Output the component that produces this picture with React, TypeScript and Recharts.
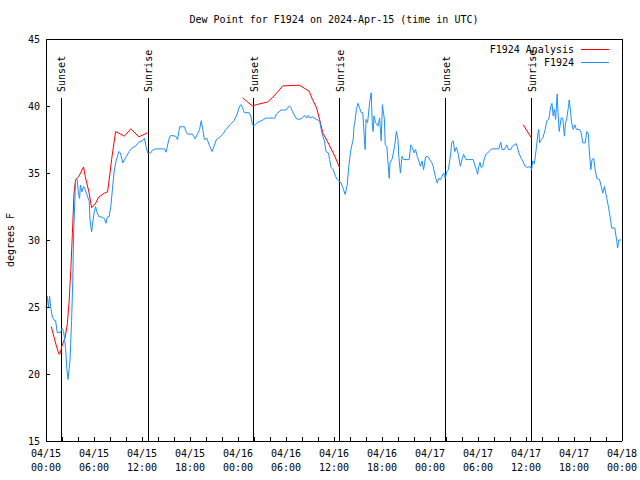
import { LineChart, Line, XAxis, YAxis, ReferenceLine, Legend } from 'recharts';

// observed dew point (F1924), hours since 04/15 00:00 UTC
const obsHours = [
  0.0, 0.15, 0.3, 0.45, 0.6, 0.8, 1.05, 1.2, 1.4, 1.8, 2.0, 2.2, 2.45, 2.6, 2.75, 2.9, 3.0, 3.2, 3.35, 3.45,
  3.55, 3.7, 3.9, 4.05, 4.2, 4.3, 4.5, 4.7, 4.9, 5.05, 5.4, 5.5, 5.7, 5.8, 6.0, 6.2, 6.35, 6.6, 7.05, 7.3,
  7.5, 7.65, 7.9, 8.1, 8.3, 8.5, 8.7, 9.0, 9.1, 9.3, 9.6, 10.05, 10.4, 10.8, 11.2, 11.6, 12.0, 12.3, 12.5, 12.7,
  13.1, 13.3, 13.7, 14.8, 15.0, 15.4, 15.6, 16.2, 16.45, 16.7, 17.3, 17.5, 17.7, 18.3, 18.65, 19.2, 19.4, 19.6, 19.8, 20.1,
  20.4, 20.75, 21.0, 21.3, 21.6, 22.1, 22.5, 23.0, 23.5, 23.9, 24.2, 24.4, 24.8, 25.4, 25.6, 25.8, 26.0, 26.5, 27.1, 27.5,
  28.6, 28.8, 29.4, 30.0, 30.4, 30.6, 30.8, 31.3, 31.7, 32.0, 32.4, 32.6, 32.8, 33.0, 33.3, 33.8, 34.2, 34.4, 34.6, 34.8,
  35.0, 35.3, 35.45, 35.65, 35.9, 36.2, 36.4, 36.6, 36.9, 37.1, 37.4, 37.65, 37.85, 38.05, 38.2, 38.4, 38.5, 38.6, 38.8, 39.0,
  39.2, 39.4, 39.6, 39.8, 39.9, 40.0, 40.2, 40.45, 40.65, 40.8, 40.9, 41.0, 41.2, 41.5, 41.7, 41.9, 42.05, 42.3, 42.4, 42.6,
  42.9, 43.0, 43.3, 43.6, 43.8, 44.0, 44.1, 44.3, 44.5, 44.7, 45.0, 45.4, 45.6, 45.8, 46.0, 46.2, 46.4, 46.6, 46.8, 47.0,
  47.2, 47.45, 47.7, 48.2, 48.4, 48.6, 48.9, 49.1, 49.3, 49.5, 49.7, 49.9, 50.1, 50.3, 50.6, 50.7, 50.9, 51.1, 51.3, 51.5,
  51.8, 52.0, 52.2, 52.5, 53.4, 53.6, 53.8, 53.95, 54.1, 54.25, 54.4, 54.6, 54.8, 55.0, 55.4, 55.7, 56.6, 56.85, 57.0, 57.3,
  57.6, 57.8, 58.1, 58.3, 58.8, 59.1, 59.4, 59.6, 59.9, 60.2, 60.5, 60.7, 60.85, 61.05, 61.3, 61.5, 61.6, 61.7, 61.9, 62.1,
  62.4, 62.6, 62.85, 63.1, 63.25, 63.4, 63.55, 63.7, 63.9, 64.0, 64.15, 64.25, 64.4, 64.6, 64.8, 64.95, 65.1, 65.3, 65.4, 65.55,
  65.7, 65.9, 66.1, 66.3, 66.7, 66.9, 67.1, 67.4, 67.6, 67.8, 67.9, 68.1, 68.25, 68.45, 68.65, 68.85, 69.2, 69.4, 69.6, 69.8,
  70.1, 70.3, 70.6, 70.7, 71.1, 71.35, 71.45, 71.6, 71.9,
];
const obsDew = [
  24.9, 25.8, 25.0, 25.8, 24.9, 24.25, 24.0, 24.0, 23.1, 23.1, 23.4, 23.2, 21.9, 20.4, 19.6, 20.4, 21.0, 24.0, 27.0, 30.5,
  32.0, 34.5, 34.5, 33.5, 33.1, 34.1, 33.6, 34.0, 33.75, 33.5, 32.9, 31.5, 30.6, 31.1, 32.0, 32.5, 32.1, 31.75, 31.7, 31.6,
  31.25, 31.7, 31.75, 32.5, 33.75, 35.0, 35.75, 36.4, 36.6, 36.5, 35.75, 36.25, 36.6, 36.9, 37.0, 37.3, 37.4, 37.6, 37.0, 36.5,
  36.5, 36.7, 36.8, 36.8, 36.55, 37.6, 37.8, 37.75, 37.5, 38.45, 38.45, 38.1, 37.9, 37.9, 37.55, 38.25, 38.9, 38.25, 37.5, 37.6,
  37.1, 36.6, 37.0, 37.5, 37.6, 37.9, 38.25, 38.6, 38.9, 39.4, 40.0, 40.1, 39.5, 39.5, 39.25, 38.6, 38.5, 38.8, 38.95, 39.1,
  39.1, 39.4, 39.7, 39.7, 40.0, 39.9, 39.6, 39.05, 39.0, 39.1, 39.3, 39.1, 39.3, 39.1, 39.2, 39.0, 38.9, 38.25, 37.75, 37.4,
  36.6, 36.5, 36.0, 35.4, 35.25, 34.75, 34.5, 34.4, 34.25, 33.9, 33.4, 34.1, 35.5, 36.5, 37.0, 37.5, 38.5, 38.75, 39.75, 40.2,
  39.85, 39.5, 39.5, 37.5, 36.75, 39.0, 38.75, 40.25, 41.0, 38.5, 38.1, 39.25, 38.75, 38.5, 39.1, 37.4, 40.1, 39.0, 37.1, 37.0,
  34.6, 35.75, 36.1, 37.1, 38.1, 37.5, 36.25, 35.0, 36.25, 36.0, 36.0, 36.0, 37.1, 36.9, 36.5, 36.75, 36.25, 35.9, 35.5, 35.9,
  35.25, 36.2, 36.25, 35.8, 35.5, 34.9, 34.25, 34.6, 34.5, 34.75, 35.0, 34.6, 35.1, 35.25, 36.5, 37.25, 37.4, 36.6, 36.9, 36.5,
  35.5, 36.0, 36.4, 36.0, 36.0, 35.6, 35.25, 34.9, 35.5, 35.8, 35.4, 35.5, 36.1, 36.4, 36.6, 36.8, 36.8, 37.3, 36.75, 36.75,
  37.1, 36.75, 36.75, 37.0, 37.2, 36.5, 36.1, 35.9, 35.5, 35.4, 35.5, 35.25, 35.9, 35.7, 36.9, 38.0, 38.25, 37.25, 37.5, 37.6,
  38.25, 38.9, 39.0, 40.0, 40.2, 39.25, 39.75, 39.0, 40.9, 39.5, 38.1, 38.5, 39.1, 39.1, 37.75, 38.75, 39.1, 39.9, 40.45, 39.75,
  38.75, 38.25, 38.6, 38.25, 38.25, 38.0, 37.25, 37.25, 38.1, 37.9, 36.75, 35.25, 36.0, 36.1, 35.25, 34.6, 34.5, 34.0, 33.5, 34.0,
  33.1, 32.5, 31.4, 30.9, 30.9, 29.9, 29.4, 30.0, 30.0,
];

// analysis dew point, null = no analysis
const anaHours = [
  0.66, 1.0, 1.3, 1.6, 1.75, 2.0, 2.4, 2.67, 2.9, 3.1, 3.3, 3.5, 3.7, 4.1, 4.7, 4.9, 5.4, 5.7, 6.2, 6.6,
  7.3, 7.7, 8.0, 8.2, 8.7, 9.8, 10.6, 11.6, 12.7, 13.0,
  24.6, 25.8, 26.3, 27.7, 28.5, 29.6, 31.7, 32.5, 32.9, 33.3, 33.8, 34.2, 34.6, 35.4, 36.1, 36.7, 48.0,
  59.65, 60.7,
];
const anaDew = [
  23.55, 22.75, 22.1, 21.5, 21.5, 22.1, 22.75, 23.75, 25.5, 27.75, 30.5, 33.5, 34.5, 34.75, 35.45, 34.75, 33.5, 32.4, 32.75, 33.2,
  33.5, 33.6, 35.0, 36.0, 38.1, 37.75, 38.3, 37.7, 38.0, null,
  40.6, 40.0, 40.1, 40.3, 40.75, 41.5, 41.55, 41.25, 41.1, 40.5, 39.9, 39.0, 38.0, 37.1, 36.25, 35.4, null,
  38.6, 37.6,
];

const sunHours = [1.93, 12.8, 25.95, 36.72, 49.96, 60.73];
const sunNames = ['Sunset', 'Sunrise', 'Sunset', 'Sunrise', 'Sunset', 'Sunrise'];

const hourTicks = [0, 2, 4, 6, 8, 10, 12, 14, 16, 18, 20, 22, 24, 26, 28, 30, 32, 34, 36, 38, 40, 42, 44, 46, 48, 50, 52, 54, 56, 58, 60, 62, 64, 66, 68, 70, 72];
const dateLabels = ['04/15', '04/15', '04/15', '04/15', '04/16', '04/16', '04/16', '04/16', '04/17', '04/17', '04/17', '04/17', '04/18'];
const timeLabels = ['00:00', '06:00', '12:00', '18:00', '00:00', '06:00', '12:00', '18:00', '00:00', '06:00', '12:00', '18:00', '00:00'];
const dewTicks = [15, 20, 25, 30, 35, 40, 45];

const FONT = '"DejaVu Sans Mono", monospace';
const RED = '#ff0000';
const BLUE = '#1e8fff';
const TICK = 4;

const obsData = obsHours.map((h, i) => ({ h, v: obsDew[i] }));
const anaData = anaHours.map((h, i) => ({ h, v: anaDew[i] }));

// gnuplot style: ticks point into the plot
function BottomTick({ x, y, payload }: any) {
  const h = payload.value;
  const i = h / 6;
  return (
    <g>
      <line x1={x} x2={x} y1={y} y2={y - TICK} stroke="#000" strokeWidth={1} shapeRendering="crispEdges" />
      {h % 6 === 0 && (
        <text x={x} y={y} textAnchor="middle" fontFamily={FONT} fontSize={10} fill="#000">
          <tspan x={x} dy={16}>{dateLabels[i]}</tspan>
          <tspan x={x} dy={14}>{timeLabels[i]}</tspan>
        </text>
      )}
    </g>
  );
}

function TopTick({ x, y }: any) {
  return <line x1={x} x2={x} y1={y} y2={y + TICK} stroke="#000" strokeWidth={1} shapeRendering="crispEdges" />;
}

function LeftTick({ x, y, payload }: any) {
  return (
    <g>
      <line x1={x} x2={x + TICK} y1={y} y2={y} stroke="#000" strokeWidth={1} shapeRendering="crispEdges" />
      <text x={x - 6} y={y + 4} textAnchor="end" fontFamily={FONT} fontSize={10} fill="#000">
        {payload.value}
      </text>
    </g>
  );
}

function RightTick({ x, y }: any) {
  return <line x1={x} x2={x - TICK} y1={y} y2={y} stroke="#000" strokeWidth={1} shapeRendering="crispEdges" />;
}

function sunLabel(name: string) {
  return (props: any) => {
    const vb = props.viewBox;
    const x = vb.x + 4;
    const y = vb.y - 6;
    return (
      <text x={x} y={y} transform={`rotate(-90 ${x} ${y})`} fontFamily={FONT} fontSize={10} fill="#000">
        {name}
      </text>
    );
  };
}

function LegendBox() {
  return (
    <svg width={640} height={30} style={{ display: 'block' }}>
      <text x={574} y={11} textAnchor="end" fontFamily={FONT} fontSize={10} fill="#000">F1924 Analysis</text>
      <line x1={581} x2={609} y1={7.5} y2={7.5} stroke={RED} />
      <text x={574} y={24} textAnchor="end" fontFamily={FONT} fontSize={10} fill="#000">F1924</text>
      <line x1={581} x2={609} y1={20.5} y2={20.5} stroke={BLUE} />
    </svg>
  );
}

const axisLine = { stroke: '#000', shapeRendering: 'crispEdges' };

export default function App() {
  return (
    <div style={{ position: 'absolute', left: 0, top: 0, width: 640, height: 480, background: '#fff' }}>
      <div
        style={{
          position: 'absolute', top: 14, left: 334, transform: 'translateX(-50%)',
          fontFamily: FONT, fontSize: 10, lineHeight: '12px', whiteSpace: 'nowrap', color: '#000',
        }}
      >
        Dew Point for F1924 on 2024-Apr-15 (time in UTC)
      </div>
      <LineChart width={640} height={480} margin={{ top: 29, right: 0, bottom: 0, left: 0 }}>
        <XAxis
          dataKey="h" type="number" domain={[0, 72]} ticks={hourTicks} interval={0}
          height={39} tickSize={0} tickMargin={0}
          axisLine={axisLine} tickLine={false}
          tick={<BottomTick />}
        />
        <XAxis
          xAxisId="top" orientation="top" type="number" domain={[0, 72]} ticks={hourTicks} interval={0}
          height={10} tickSize={0} tickMargin={0}
          axisLine={axisLine} tickLine={false}
          tick={<TopTick />}
        />
        <YAxis
          type="number" domain={[15, 45]} ticks={dewTicks} interval={0}
          width={46} tickSize={0} tickMargin={0}
          axisLine={axisLine} tickLine={false} tick={<LeftTick />}
          label={{
            content: (p: any) => {
              const x = 14;
              const y = p.viewBox.y + p.viewBox.height / 2;
              return (
                <text x={x} y={y} transform={`rotate(-90 ${x} ${y})`} textAnchor="middle" fontFamily={FONT} fontSize={10} fill="#000">
                  degrees F
                </text>
              );
            },
          }}
        />
        <YAxis
          yAxisId="right" orientation="right" type="number" domain={[15, 45]} ticks={dewTicks} interval={0}
          width={18} tickSize={0} tickMargin={0}
          axisLine={axisLine} tickLine={false} tick={<RightTick />}
        />
        {sunHours.map((h, i) => (
          <ReferenceLine
            key={i}
            segment={[{ x: h, y: 15 }, { x: h, y: 40.6 }]}
            stroke="#000"
            strokeWidth={1}
            shapeRendering="crispEdges"
            label={sunLabel(sunNames[i])}
          />
        ))}
        <Line data={anaData} dataKey="v" stroke={RED} strokeWidth={1} dot={false} isAnimationActive={false} name="F1924 Analysis" />
        <Line data={obsData} dataKey="v" stroke={BLUE} strokeWidth={1} dot={false} isAnimationActive={false} name="F1924" />
        <Legend
          layout="horizontal" verticalAlign="middle" align="center"
          content={<LegendBox />}
          wrapperStyle={{ top: 42, left: 0, width: 640, height: 30 }}
        />
      </LineChart>
    </div>
  );
}
